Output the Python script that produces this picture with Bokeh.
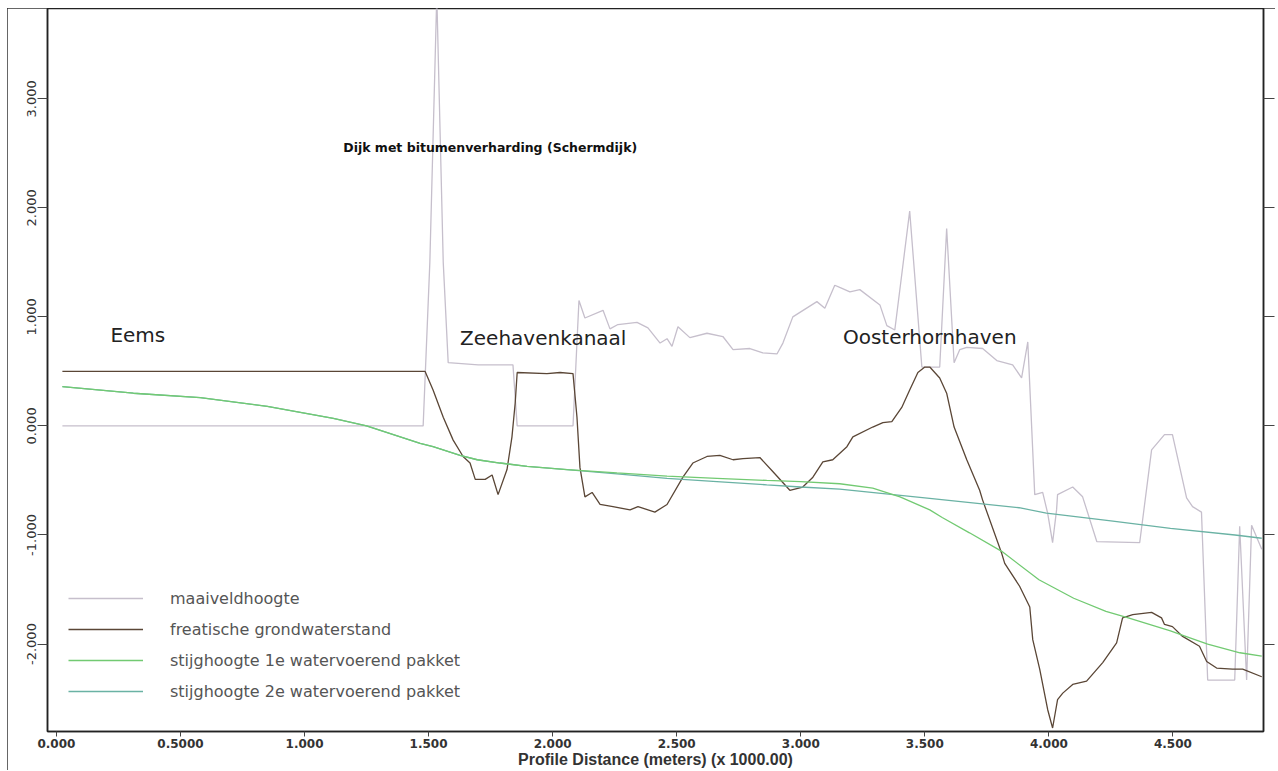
from bokeh.plotting import figure
from bokeh.models import Range1d, LinearAxis, FixedTicker, Legend, LegendItem, Label, CustomJSTickFormatter
from bokeh.embed import file_html
from bokeh.resources import INLINE

# ---------------- data (distance in km = meters x 1000) ----------------
maaiveld_x = [0.024, 1.478, 1.505, 1.533, 1.559, 1.579, 1.70, 1.840, 1.857, 2.082,
              2.106, 2.130, 2.203, 2.231, 2.263, 2.340, 2.384, 2.433, 2.461, 2.481,
              2.505, 2.553, 2.622, 2.686, 2.727, 2.795, 2.847, 2.904, 2.928, 2.968,
              3.065, 3.097, 3.137, 3.157, 3.198, 3.238, 3.319, 3.347, 3.379, 3.439,
              3.488, 3.560, 3.588, 3.618, 3.641, 3.669, 3.733, 3.790, 3.854, 3.890,
              3.915, 3.943, 3.975, 3.995, 4.015, 4.031, 4.035, 4.096, 4.136, 4.193,
              4.366, 4.414, 4.466, 4.498, 4.555, 4.579, 4.615, 4.640, 4.749, 4.769,
              4.797, 4.817, 4.858]
maaiveld_y = [0.00, 0.00, 1.50, 3.95, 1.50, 0.58, 0.56, 0.56, 0.00, 0.00,
              1.15, 0.99, 1.06, 0.89, 0.93, 0.95, 0.90, 0.76, 0.80, 0.73,
              0.91, 0.81, 0.85, 0.82, 0.70, 0.71, 0.67, 0.66, 0.76, 1.00,
              1.14, 1.08, 1.29, 1.27, 1.23, 1.25, 1.11, 0.92, 0.88, 1.97,
              0.54, 0.54, 1.81, 0.58, 0.70, 0.72, 0.71, 0.60, 0.56, 0.44,
              0.77, -0.63, -0.61, -0.80, -1.07, -0.77, -0.63, -0.56, -0.65, -1.06,
              -1.07, -0.22, -0.08, -0.08, -0.66, -0.74, -0.79, -2.33, -2.33, -0.92,
              -2.33, -0.91, -1.13]

freatisch_x = [0.024, 1.486, 1.518, 1.559, 1.599, 1.639, 1.667, 1.688, 1.728, 1.756,
               1.780, 1.816, 1.836, 1.849, 1.857, 1.977, 2.030, 2.082, 2.098, 2.110,
               2.130, 2.159, 2.191, 2.243, 2.312, 2.344, 2.412, 2.461, 2.525, 2.565,
               2.622, 2.674, 2.727, 2.767, 2.835, 2.888, 2.956, 3.008, 3.049, 3.089,
               3.129, 3.186, 3.210, 3.290, 3.331, 3.367, 3.407, 3.439, 3.472, 3.500,
               3.520, 3.560, 3.588, 3.618, 3.669, 3.721, 3.733, 3.810, 3.822, 3.882,
               3.923, 3.935, 3.963, 3.995, 4.015, 4.035, 4.056, 4.096, 4.152, 4.217,
               4.273, 4.297, 4.338, 4.414, 4.454, 4.466, 4.498, 4.539, 4.607, 4.636,
               4.676, 4.740, 4.781, 4.858]
freatisch_y = [0.50, 0.50, 0.33, 0.08, -0.13, -0.28, -0.34, -0.49, -0.49, -0.45,
               -0.63, -0.40, -0.10, 0.21, 0.49, 0.48, 0.49, 0.48, 0.08, -0.38,
               -0.65, -0.61, -0.72, -0.74, -0.77, -0.74, -0.79, -0.72, -0.47, -0.34,
               -0.28, -0.27, -0.31, -0.30, -0.29, -0.42, -0.59, -0.56, -0.47, -0.33,
               -0.31, -0.19, -0.10, -0.01, 0.03, 0.04, 0.17, 0.33, 0.49, 0.54,
               0.54, 0.44, 0.30, -0.01, -0.31, -0.59, -0.68, -1.17, -1.26, -1.47,
               -1.66, -1.96, -2.23, -2.60, -2.77, -2.51, -2.45, -2.37, -2.34, -2.17,
               -1.99, -1.76, -1.73, -1.71, -1.76, -1.82, -1.84, -1.93, -2.02, -2.16,
               -2.22, -2.23, -2.23, -2.30]

stijg1_x = [0.024, 0.31, 0.58, 0.85, 1.116, 1.25, 1.466, 1.518, 1.627, 1.696,
            1.788, 1.897, 2.058, 2.259, 2.461, 2.662, 2.863, 3.0, 3.157, 3.29,
            3.40, 3.52, 3.57, 3.68, 3.81, 3.96, 4.10, 4.23, 4.32, 4.49,
            4.54, 4.64, 4.77, 4.858]
stijg1_y = [0.36, 0.30, 0.26, 0.18, 0.07, 0.00, -0.16, -0.19, -0.27, -0.31,
            -0.34, -0.37, -0.40, -0.43, -0.46, -0.48, -0.50, -0.51, -0.53, -0.57,
            -0.65, -0.77, -0.84, -0.98, -1.15, -1.41, -1.58, -1.70, -1.76, -1.88,
            -1.92, -2.00, -2.08, -2.11]

stijg2_x = [0.024, 0.31, 0.58, 0.85, 1.116, 1.25, 1.466, 1.518, 1.627, 1.696,
            1.788, 1.897, 2.058, 2.259, 2.461, 2.662, 2.863, 3.0, 3.157, 3.50,
            3.88, 3.99, 4.25, 4.49, 4.75, 4.858]
stijg2_y = [0.36, 0.30, 0.26, 0.18, 0.07, 0.00, -0.16, -0.19, -0.27, -0.31,
            -0.34, -0.37, -0.40, -0.44, -0.48, -0.51, -0.54, -0.56, -0.58, -0.66,
            -0.75, -0.80, -0.87, -0.94, -1.00, -1.03]

series_names = ["maaiveldhoogte", "freatische grondwaterstand",
                "stijghoogte 1e watervoerend pakket", "stijghoogte 2e watervoerend pakket"]

x_ticks = [0.0, 0.5, 1.0, 1.5, 2.0, 2.5, 3.0, 3.5, 4.0, 4.5]
x_tick_labels = ["0.000", "0.5000", "1.000", "1.500", "2.000", "2.500", "3.000", "3.500", "4.000", "4.500"]
y_ticks = [-2.0, -1.0, 0.0, 1.0, 2.0, 3.0]
y_tick_labels = ["-2.000", "-1.000", "0.000", "1.000", "2.000", "3.000"]

area_labels = ["Eems", "Zeehavenkanaal", "Oosterhornhaven"]
area_label_pos = [(0.2175, 0.833), (1.627, 0.806), (3.170, 0.815)]
dijk_label = "Dijk met bitumenverharding (Schermdijk)"
dijk_label_pos = (1.156, 2.555)

x_title = "Profile Distance (meters) (x 1000.00)"

# ---------------- figure ----------------
p = figure(width=1268, height=762, output_backend="svg", toolbar_location=None,
           x_range=Range1d(-0.036, 4.865), y_range=Range1d(-2.802, 3.828),
           min_border_left=40, min_border_right=12, min_border_top=0, min_border_bottom=38)
p.styles = {"margin-left": "7px", "margin-top": "8px",
            "outline": "2px solid #333333", "outline-offset": "-2px"}
p.xgrid.visible = False
p.ygrid.visible = False
p.outline_line_color = "#222222"
p.outline_line_width = 1.5
p.background_fill_color = "white"
p.border_fill_color = "white"

c_maai = "#c6bfcc"
c_frea = "#5a4636"
c_st1 = "#72ca72"
c_st2 = "#6ab2a4"

r1 = p.line(maaiveld_x, maaiveld_y, line_color=c_maai, line_width=1.3)
r2 = p.line(freatisch_x, freatisch_y, line_color=c_frea, line_width=1.3)
r4 = p.line(stijg2_x, stijg2_y, line_color=c_st2, line_width=1.3)
r3 = p.line(stijg1_x, stijg1_y, line_color=c_st1, line_width=1.3)

# axes
xa = p.xaxis[0]
xa.ticker = FixedTicker(ticks=x_ticks)
xa.major_label_overrides = {t: l for t, l in zip(x_ticks, x_tick_labels)}
xa.minor_tick_line_color = None
xa.major_tick_out = 5
xa.major_tick_in = 0
xa.major_label_standoff = 2
xa.major_label_text_font = "DejaVu Sans"
xa.major_label_text_font_style = "bold"
xa.major_label_text_font_size = "12px"
xa.major_label_text_color = "#333333"
xa.axis_line_color = "#222222"
xa.axis_line_width = 1.5
xa.major_tick_line_color = "#444444"
xa.axis_label = x_title
xa.axis_label_standoff = 0
xa.axis_label_text_font = "Liberation Sans"
xa.axis_label_text_font_style = "bold"
xa.axis_label_text_font_size = "16px"
xa.axis_label_text_color = "#333333"

ya = p.yaxis[0]
ya.ticker = FixedTicker(ticks=y_ticks)
ya.major_label_overrides = {t: l for t, l in zip(y_ticks, y_tick_labels)}
ya.minor_tick_line_color = None
ya.major_tick_out = 10
ya.major_tick_in = 0
ya.major_label_standoff = 1
ya.major_label_orientation = "vertical"
ya.major_label_text_font = "DejaVu Sans"
ya.major_label_text_font_size = "13px"
ya.major_label_text_color = "#333333"
ya.axis_line_color = "#222222"
ya.axis_line_width = 1.5
ya.major_tick_line_color = "#444444"

ra = LinearAxis(ticker=FixedTicker(ticks=y_ticks),
                formatter=CustomJSTickFormatter(code="return ''"))
ra.minor_tick_line_color = None
ra.major_tick_out = 11
ra.major_tick_in = 0
ra.major_label_standoff = 0
ra.axis_line_color = "#222222"
ra.axis_line_width = 1.5
ra.major_tick_line_color = "#444444"
p.add_layout(ra, "right")

# legend
legend = Legend(items=[LegendItem(label=series_names[0], renderers=[r1]),
                       LegendItem(label=series_names[1], renderers=[r2]),
                       LegendItem(label=series_names[2], renderers=[r3]),
                       LegendItem(label=series_names[3], renderers=[r4])],
                location=(21, 30), padding=0, margin=0, spacing=11,
                glyph_width=75, glyph_height=20, label_height=20, label_standoff=27,
                label_text_font="DejaVu Sans", label_text_font_size="16px",
                label_text_color="#555555",
                border_line_alpha=0, background_fill_alpha=0)
p.add_layout(legend, "center")

# annotations
for txt, (lx, ly) in zip(area_labels, area_label_pos):
    p.add_layout(Label(x=lx, y=ly, text=txt, text_baseline="middle", text_align="left",
                       text_font="DejaVu Sans", text_font_size="20px", text_color="#222222"))
p.add_layout(Label(x=dijk_label_pos[0], y=dijk_label_pos[1], text=dijk_label,
                   text_baseline="middle", text_align="left", text_font="DejaVu Sans",
                   text_font_style="bold", text_font_size="12.5px", text_color="#111111"))

open("out.html", "w").write(file_html(p, INLINE))
